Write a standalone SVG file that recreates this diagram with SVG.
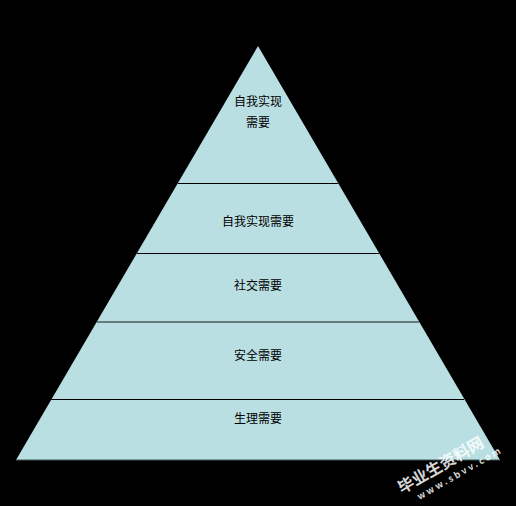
<svg xmlns="http://www.w3.org/2000/svg" width="516" height="506" viewBox="0 0 516 506">
<style>
.lbl{font-family:"Noto Sans CJK SC","Liberation Sans",sans-serif;font-size:12px;fill:#000;text-anchor:middle}
.div{stroke:#000;stroke-width:1}
.wm{font-family:"Noto Sans CJK SC","Liberation Sans",sans-serif;fill:#ffffff;fill-opacity:0.85;font-weight:bold}
</style>
<rect width="516" height="506" fill="#000"/>
<g id="pyramid">
<polygon points="258,46 16,460 500,460" fill="#b9dfe2"/>
<line x1="16" y1="460" x2="500" y2="460" stroke="#3e5656" stroke-width="1"/>
</g>
<g id="connectors">
<line class="div" x1="178" y1="183.5" x2="338" y2="183.5"/>
<line class="div" x1="137" y1="253.5" x2="379" y2="253.5"/>
<line x1="97" y1="322" x2="419" y2="322" stroke="#4a5a5a" stroke-width="1.5"/>
<line class="div" x1="51" y1="399.5" x2="464" y2="399.5"/>
</g>
<g id="n1"><text class="lbl" x="258" y="106">自我实现</text><text class="lbl" x="258" y="127">需要</text></g>
<g id="n2"><text class="lbl" x="258" y="226">自我实现需要</text></g>
<g id="n3"><text class="lbl" x="258" y="290">社交需要</text></g>
<g id="n4"><text class="lbl" x="258" y="360">安全需要</text></g>
<g id="n5"><text class="lbl" x="258" y="423">生理需要</text></g>
<g id="watermark" transform="translate(402,494) rotate(-30)">
<text class="wm" x="0" y="0" font-size="16">毕业生资料网</text>
<text class="wm" x="12" y="14" font-size="9" letter-spacing="2.5">www.sbvv.com</text>
</g>
</svg>
